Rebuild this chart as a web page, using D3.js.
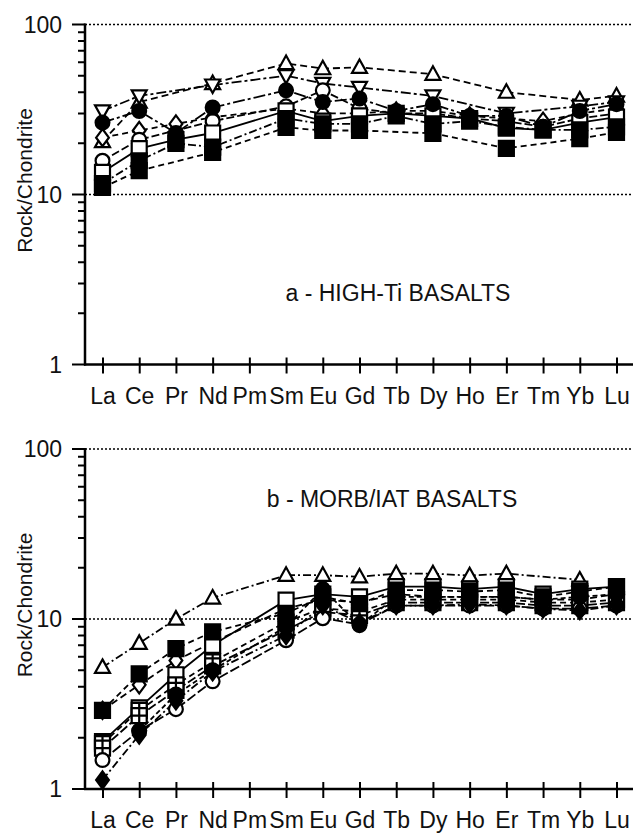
<!DOCTYPE html>
<html>
<head>
<meta charset="utf-8">
<title>REE patterns</title>
<style>
  body { margin: 0; background: #fff; }
  svg { display: block; font-family: "Liberation Sans", Arial, sans-serif; }
  .grid { stroke: #000; stroke-width: 1.5px; stroke-dasharray: 2,2; }
</style>
<script src="https://d3js.org/d3.v7.min.js"></script>
</head>
<body>
<script>
// chondrite-normalised REE
var elements = ["La","Ce","Pr","Nd","Pm","Sm","Eu","Gd","Tb","Dy","Ho","Er","Tm","Yb","Lu"];
var majorTicks = [1, 10, 100];
var minorTicks = [2,3,4,5,6,7,8,9,20,30,40,50,60,70,80,90];

// panel a - high-Ti basalts
var a1 = [20.5, 35, null, 45, null, 59, 55, 56, null, 51, null, 40, null, 36, 38];
var a2 = [31, 38, null, 44, null, 50, 45, 42.6, null, 38, null, 30, null, 33, 35];
var a3 = [26.5, 31, 23, 32.5, null, 41, 35, 36.7, 31, 34, 29, 29, 25, 31, 34];
var a4 = [21.6, 23.8, 26, 28.5, null, 32, 30, 30, 31, 31, 29, 28, 27, 30, 32];
var a5 = [15.8, 21, null, 27, null, 33, 41, 32, 30, 30, 28, 27, 25, 28, 30];
var a6 = [13.5, 18.6, 21, 23, null, 31, 27, 29, 30, 29, 28, 24.6, 24, 26.5, 28.5];
var a7 = [11.6, 15.8, 20, 19, null, 28, 26, 26, 29, 26, 27, 25, 24, 24, 25];
var a8 = [11, 13.8, null, 17.7, null, 24.8, 23.8, 23.8, null, 22.9, null, 18.7, null, 21.3, 23.2];

// panel b - MORB/IAT basalts
var b1 = [5.2, 7.2, 10, 13.3, null, 18.1, 18.1, 17.7, 18.5, 18.5, 18, 18.5, null, 17, null];
var b2 = [2.9, 4.75, 6.7, 8.4, null, 10.8, 13.5, 12.3, 14.8, 14.8, 14.5, 14.8, 13.5, 14.5, 15.5];
var b3 = [2.9, 4.1, 5.7, 7.3, null, 11.5, 13, 12.5, 14, 13.5, 13.5, 13.5, 13, 13, 14];
var b4 = [1.9, 3.0, 4.7, 7.0, null, 12.9, 14, 13.5, 15.5, 15.5, 15, 15.5, 14, 15, 15.5];
var b5 = [1.85, 2.9, 4.1, 5.6, null, 9.6, 11.6, 11, 13, 13, 13, 13, 12.5, 12.5, 13];
var b6 = [1.74, 2.7, 3.8, 5.3, null, 8.6, 11, 10.5, 12.5, 12.5, 12.5, 12.5, 12, 12, 12.5];
var b7 = [1.48, 2.2, 2.95, 4.3, null, 7.5, 10.1, 9.3, 12, 12, 12, 12, 11.5, 11.5, 12];
var b8 = [1.13, 2.08, 3.3, 4.9, null, 8, 12, 9.5, 12, 12, 12.2, 12, 11.5, 11.2, 12];
var b9 = [null, 2.2, 3.6, 5.0, null, 9, 15, 9.2, 13.5, 13.5, 13.5, 13.5, 13, 13.5, 14];

var panelA = {
    label: "a - HIGH-Ti BASALTS", lx: 398, ly: 301,
    series: [a1, a2, a3, a4, a5, a6, a7, a8],
    styles: [
        {shape: "triUp", fill: "#fff", dash: "7,4"},
        {shape: "triDown", fill: "#fff", dash: "10,3,3,3"},
        {shape: "circle", fill: "#000", dash: "12,3,3,3"},
        {shape: "diamond", fill: "#fff", dash: "6,4"},
        {shape: "circle", fill: "#fff", dash: "8,3"},
        {shape: "square", fill: "#fff", dash: null},
        {shape: "square", fill: "#000", dash: "8,3,2,3"},
        {shape: "square", fill: "#000", dash: "6,4"}
    ]
};
var panelB = {
    label: "b - MORB/IAT BASALTS", lx: 392, ly: 507,
    series: [b1, b2, b3, b4, b5, b6, b7, b8, b9],
    styles: [
        {shape: "triUp", fill: "#fff", dash: "8,3,2,3"},
        {shape: "square", fill: "#000", dash: "6,4"},
        {shape: "diamond", fill: "#fff", dash: "7,4"},
        {shape: "square", fill: "#fff", dash: null},
        {shape: "hatch", fill: "#fff", dash: "6,4"},
        {shape: "hatch", fill: "#fff", dash: "9,3"},
        {shape: "circle", fill: "#fff", dash: "10,3"},
        {shape: "diamond", fill: "#000", dash: "8,3,2,3"},
        {shape: "circle", fill: "#000", dash: "5,3"}
    ]
};

var w = 636, h = 834;
var svg = d3.select("body").append("svg")
    .attr("width", w)
    .attr("height", h);

var x = d3.scalePoint()
    .domain(elements)
    .range([102.5, 616.5]);

var axisLeftX = 85, axisRightX = 633;

function markerPath(shape, s) {
    var r = s / 2;
    if (shape == "triUp") return "M0," + (-r * 1.05) + "L" + r + "," + (r * 0.75) + "L" + (-r) + "," + (r * 0.75) + "Z";
    if (shape == "triDown") return "M0," + (r * 1.05) + "L" + r + "," + (-r * 0.75) + "L" + (-r) + "," + (-r * 0.75) + "Z";
    if (shape == "diamond") return "M0," + (-r * 1.15) + "L" + (r * 0.85) + ",0L0," + (r * 1.15) + "L" + (-r * 0.85) + ",0Z";
    if (shape == "square") return "M" + (-r) + "," + (-r) + "h" + s + "v" + s + "h" + (-s) + "Z";
    if (shape == "hatch") return "M" + (-r) + "," + (-r) + "h" + s + "v" + s + "h" + (-s) + "Z" +
        "M0," + (-r) + "V" + r + "M" + (-r) + ",0H" + r;
    var c = r * 0.92;
    return "M" + c + ",0A" + c + "," + c + " 0 1,1 " + (-c) + ",0A" + c + "," + c + " 0 1,1 " + c + ",0Z";
}

function drawPanel(panel, top) {
    var y = d3.scaleLog()
        .domain([1, 100])
        .range([top + 340, top]);
    var g = svg.append("g");

    // dotted reference lines at 10 and 100
    g.selectAll("line.grid")
        .data([10, 100])
        .enter()
        .append("line")
        .attr("class", "grid")
        .attr("x1", axisLeftX).attr("x2", axisRightX)
        .attr("y1", function (d) { return y(d); })
        .attr("y2", function (d) { return y(d); });

    g.append("line")
        .attr("x1", axisLeftX).attr("x2", axisLeftX)
        .attr("y1", y(100) - 1).attr("y2", y(1) + 1)
        .attr("stroke", "#000").attr("stroke-width", 2.5);

    // y ticks pointing outwards, built as one path per kind
    function tickPath(vals, len) {
        var p = d3.path();
        vals.forEach(function (v) {
            p.moveTo(axisLeftX - len, y(v));
            p.lineTo(axisLeftX, y(v));
        });
        return p.toString();
    }
    g.append("path")
        .attr("d", tickPath(minorTicks, 7))
        .attr("fill", "none")
        .attr("stroke", "#000")
        .attr("stroke-width", 2);
    g.append("path")
        .attr("d", tickPath(majorTicks, 13))
        .attr("fill", "none")
        .attr("stroke", "#000")
        .attr("stroke-width", 2.2);

    g.selectAll("text.ylab")
        .data(majorTicks)
        .enter()
        .append("text")
        .attr("class", "ylab")
        .attr("x", axisLeftX - 23)
        .attr("y", function (d) { return y(d); })
        .attr("dy", "0.36em")
        .attr("text-anchor", "end")
        .attr("font-size", 23)
        .attr("fill", "#111")
        .text(d3.format("d"));

    // x axis, ticks cross the line
    var xa = g.append("g")
        .attr("transform", "translate(0," + y(1) + ")")
        .call(d3.axisBottom(x).tickSize(9).tickSizeOuter(0));
    xa.select(".domain").remove();
    xa.selectAll(".tick line").attr("y1", -7).attr("stroke-width", 2);
    xa.selectAll(".tick text")
        .attr("y", 39).attr("dy", 0)
        .attr("font-size", 23)
        .attr("fill", "#111")
        .attr("font-family", "Liberation Sans, Arial, sans-serif");
    g.append("line")
        .attr("x1", axisLeftX - 1).attr("x2", axisRightX)
        .attr("y1", y(1)).attr("y2", y(1))
        .attr("stroke", "#000").attr("stroke-width", 2.5);

    g.append("text")
        .attr("transform", "translate(32," + (top + 156) + ") rotate(-90)")
        .attr("text-anchor", "middle")
        .attr("font-size", 21)
        .attr("fill", "#111")
        .text("Rock/Chondrite");

    g.append("text")
        .attr("x", panel.lx).attr("y", panel.ly)
        .attr("text-anchor", "middle")
        .attr("font-size", 23)
        .attr("fill", "#111")
        .text(panel.label);

    var line = d3.line()
        .x(function (d) { return x(d.el); })
        .y(function (d) { return y(d.v); });

    var rows = panel.series.map(function (vals, i) {
        return {
            style: panel.styles[i],
            pts: vals.map(function (v, j) { return {el: elements[j], v: v}; })
                .filter(function (p) { return p.v != null; })
        };
    });

    g.selectAll("path.line")
        .data(rows)
        .enter()
        .append("path")
        .attr("class", "line")
        .attr("fill", "none")
        .attr("stroke", "#000")
        .attr("stroke-width", 1.8)
        .attr("d", function (d) { return line(d.pts); })
        .attr("stroke-dasharray", function (d) { return d.style.dash; });

    // open markers first, filled ones on top
    var marks = [];
    rows.forEach(function (r) {
        r.pts.forEach(function (p) { marks.push({p: p, st: r.style}); });
    });
    marks.sort(function (a, b) { return (a.st.fill == "#000") - (b.st.fill == "#000"); });

    g.selectAll("path.mark")
        .data(marks)
        .enter()
        .append("path")
        .attr("class", "mark")
        .attr("transform", function (d) { return "translate(" + x(d.p.el) + "," + y(d.p.v) + ")"; })
        .attr("d", function (d) { return markerPath(d.st.shape, 15); })
        .attr("fill", function (d) { return d.st.fill; })
        .attr("stroke", "#000")
        .attr("stroke-width", 2.2);
}

drawPanel(panelA, 24.5);
drawPanel(panelB, 449);
</script>
</body>
</html>
